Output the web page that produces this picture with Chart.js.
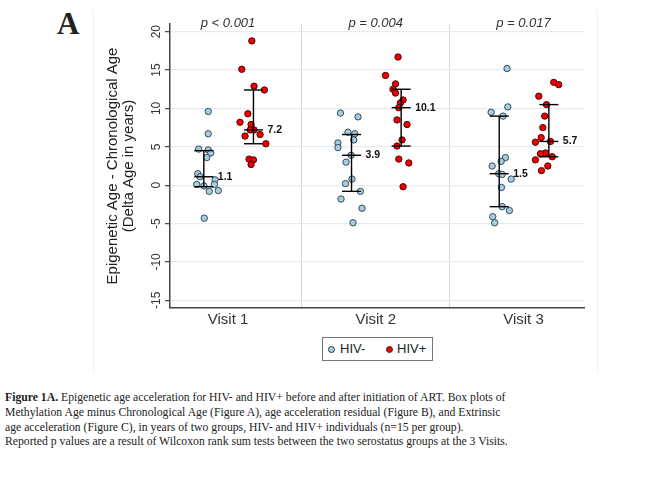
<!DOCTYPE html>
<html>
<head>
<meta charset="utf-8">
<script src="https://cdn.jsdelivr.net/npm/chart.js@4/dist/chart.umd.min.js"></script>
<style>
  body { margin: 0; background: #fff; width: 672px; height: 478px; position: relative; overflow: hidden; }
  #chart { position: absolute; left: 0; top: 0; }
  .frame { position: absolute; top: 10px; height: 362px; width: 0; border-left: 1px solid #eef1f3; }
  #panel { position: absolute; left: 57px; top: 8px; font: bold 31px "Liberation Serif", "Times New Roman", serif; line-height: 31px; color: #222; }
  #legend { position: absolute; left: 322px; top: 337px; width: 111px; height: 24px; box-sizing: border-box; border: 1.5px solid #777; font: 13px "Liberation Sans", Arial, sans-serif; color: #222; }
  #legend .dot { position: absolute; top: 8px; width: 5px; height: 5px; border-radius: 50%; border: 1px solid #333; }
  #legend .txt { position: absolute; top: 3px; line-height: 15px; }
  #caption { position: absolute; left: 5px; top: 390px; font: 13px "Liberation Serif", "Times New Roman", serif; line-height: 14.8px; color: #222; white-space: nowrap; transform: scaleX(0.9); transform-origin: 0 0; }
</style>
</head>
<body>
<div class="frame" style="left:93px"></div>
<div class="frame" style="left:597px"></div>
<div id="panel">A</div>
<canvas id="chart" width="672" height="330" style="width:672px;height:330px"></canvas>
<div id="legend">
  <span class="dot" style="left:5px;background:#a3cde0"></span><span class="txt" style="left:17px">HIV-</span>
  <span class="dot" style="left:63px;background:#f00000"></span><span class="txt" style="left:74px">HIV+</span>
</div>
<div id="caption"><b>Figure 1A.</b> Epigenetic age acceleration for HIV- and HIV+ before and after initiation of ART. Box plots of<br>Methylation Age minus Chronological Age (Figure A), age acceleration residual (Figure B), and Extrinsic<br>age acceleration (Figure C), in years of two groups, HIV- and HIV+ individuals (n=15 per group).<br>Reported p values are a result of Wilcoxon rank sum tests between the two serostatus groups at the 3 Visits.</div>
<script>
const visits = ['Visit 1', 'Visit 2', 'Visit 3'];
const visitPos = [1, 2, 3];
const pValues = ['p < 0.001', 'p = 0.004', 'p = 0.017'];
const yTicks = [-15, -10, -5, 0, 5, 10, 15, 20];

// delta age per subject, x = jittered position on the visit axis
const hivNegV1 = [9.6, 6.7, 4.7, 4.6, 4.2, 3.6, 1.5, 1.1, 0.7, 0.1, -0.1, 0.1, -0.8, -0.7, -4.3];
const hivNegV1X = [0.866, 0.866, 0.801, 0.866, 0.883, 0.856, 0.795, 0.810, 0.912, 0.788, 0.837, 0.907, 0.873, 0.934, 0.839];
const hivPosV1 = [18.8, 15.1, 12.9, 12.4, 9.3, 8.2, 7.9, 7.2, 7.2, 6.4, 6.6, 5.4, 3.4, 3.3, 2.7];
const hivPosV1X = [1.161, 1.093, 1.176, 1.246, 1.134, 1.081, 1.156, 1.176, 1.150, 1.115, 1.217, 1.256, 1.142, 1.172, 1.156];

const hivNegV2 = [9.4, 8.9, 6.9, 6.7, 5.9, 5.5, 4.9, 3.9, 3.0, 0.8, 0.2, -0.8, -1.8, -3.0, -4.9];
const hivNegV2X = [1.761, 1.880, 1.812, 1.858, 1.851, 1.744, 1.744, 1.833, 1.799, 1.839, 1.795, 1.896, 1.765, 1.907, 1.846];
const hivPosV2 = [16.7, 14.3, 13.2, 12.5, 12.0, 11.1, 10.7, 10.1, 8.5, 7.9, 5.9, 5.1, 3.4, 2.9, -0.2];
const hivPosV2X = [2.151, 2.066, 2.134, 2.117, 2.134, 2.185, 2.167, 2.156, 2.144, 2.212, 2.178, 2.144, 2.156, 2.224, 2.185];

const hivNegV3 = [15.2, 10.2, 9.5, 9.0, 3.6, 3.1, 2.5, 1.5, 1.4, 0.8, -0.3, -2.8, -3.3, -4.1, -4.9];
const hivNegV3X = [2.889, 2.894, 2.781, 2.862, 2.878, 2.849, 2.788, 2.833, 2.856, 2.917, 2.851, 2.856, 2.905, 2.792, 2.805];
const hivPosV3 = [13.4, 13.1, 11.6, 10.5, 9.0, 7.5, 6.2, 5.6, 5.7, 4.2, 4.1, 3.7, 3.3, 2.5, 1.9];
const hivPosV3X = [3.205, 3.239, 3.104, 3.156, 3.144, 3.131, 3.120, 3.081, 3.183, 3.149, 3.115, 3.195, 3.081, 3.165, 3.122];

// median and interquartile range per visit
const medNeg = [1.1, 3.9, 1.5];
const q1Neg = [-0.2, -0.8, -2.8];
const q3Neg = [4.5, 6.6, 9.0];
const medPos = [7.2, 10.1, 5.7];
const q1Pos = [5.4, 5.1, 3.7];
const q3Pos = [12.4, 12.5, 10.5];

const offNeg = -0.164;
const offPos = 0.172;
const FONT = '"Liberation Sans", Arial, Helvetica, sans-serif';

Chart.defaults.font.family = FONT;

const toPoints = (xs, ys) => ys.map((v, i) => ({ x: xs[i], y: v }));

function whiskers(off, q1, q3) {
    const out = [];
    visitPos.forEach((v, i) => {
        out.push({ x: v + off, y: q1[i] }, { x: v + off, y: q3[i] }, { x: v + off, y: null });
    });
    return out;
}

function marks(off, q1, q3, med) {
    const out = [];
    visitPos.forEach((v, i) => {
        out.push({ x: v + off, y: q1[i] }, { x: v + off, y: q3[i] }, { x: v + off, y: med[i] });
    });
    return out;
}

const negPoints = [].concat(toPoints(hivNegV1X, hivNegV1), toPoints(hivNegV2X, hivNegV2), toPoints(hivNegV3X, hivNegV3));
const posPoints = [].concat(toPoints(hivPosV1X, hivPosV1), toPoints(hivPosV2X, hivPosV2), toPoints(hivPosV3X, hivPosV3));

const labelPlugin = {
    id: 'medianLabels',
    afterDatasetsDraw(chart) {
        const { ctx, chartArea, scales: { x, y } } = chart;
        ctx.save();
        ctx.fillStyle = '#333';
        ctx.textAlign = 'center';
        ctx.textBaseline = 'middle';
        ctx.font = 'italic 13px ' + FONT;
        visitPos.forEach((v, i) => ctx.fillText(pValues[i], x.getPixelForValue(v), chartArea.top - 1));

        ctx.fillStyle = '#111';
        ctx.textAlign = 'left';
        ctx.font = 'bold 10.5px ' + FONT;
        visitPos.forEach((v, i) => {
            ctx.fillText(medNeg[i].toFixed(1), x.getPixelForValue(v + offNeg) + 14, y.getPixelForValue(medNeg[i]));
            ctx.fillText(medPos[i].toFixed(1), x.getPixelForValue(v + offPos) + 14, y.getPixelForValue(medPos[i]));
        });
        ctx.restore();
    }
};

const xMin = 0.607, xMax = 3.41;

new Chart(document.getElementById('chart'), {
    type: 'scatter',
    data: {
        datasets: [
            { data: whiskers(offNeg, q1Neg, q3Neg).concat(whiskers(offPos, q1Pos, q3Pos)), showLine: true, spanGaps: false,
              borderColor: '#000', borderWidth: 1.4, pointRadius: 0, order: 0 },
            { data: marks(offNeg, q1Neg, q3Neg, medNeg).concat(marks(offPos, q1Pos, q3Pos, medPos)),
              pointStyle: 'line', pointRadius: 9.5, borderColor: '#000', borderWidth: 1.4, pointBorderWidth: 1.4, order: 0 },
            { label: 'HIV-', data: negPoints, backgroundColor: '#a3cde0', borderColor: '#2d3b44',
              pointRadius: 3.2, borderWidth: 0.9, order: 1 },
            { label: 'HIV+', data: posPoints, backgroundColor: '#f00000', borderColor: '#3a0000',
              pointRadius: 3.2, borderWidth: 0.9, order: 1 }
        ]
    },
    options: {
        responsive: false,
        animation: false,
        devicePixelRatio: 1,
        layout: { padding: { left: 100, top: 24, right: 88, bottom: 0 } },
        plugins: { legend: { display: false }, tooltip: { enabled: false } },
        scales: {
            x: {
                type: 'linear', min: xMin, max: xMax,
                afterBuildTicks: s => { s.ticks = visitPos.map(v => ({ value: v })); },
                afterFit: s => { s.height = 22; },
                ticks: { callback: v => visits[visitPos.indexOf(v)], font: { size: 15 }, color: '#333', padding: 3, maxRotation: 0, autoSkip: false },
                grid: { display: false, drawTicks: false },
                border: { color: '#444', width: 1.5 }
            },
            xsep: {
                type: 'linear', position: 'top', min: xMin, max: xMax,
                afterBuildTicks: s => { s.ticks = visitPos.slice(1).map(v => ({ value: v - 0.5 })); },
                afterFit: s => { s.height = 0; },
                ticks: { display: false },
                grid: { color: '#d6d6d6', lineWidth: 1, drawTicks: false },
                border: { display: false }
            },
            y: {
                min: -16, max: 21,
                afterBuildTicks: s => { s.ticks = yTicks.map(v => ({ value: v })); },
                afterFit: s => { s.width = 70; },
                ticks: { minRotation: 90, maxRotation: 90, crossAlign: 'center', padding: 0, font: { size: 12 }, color: '#333' },
                grid: { color: '#e3ecf0', lineWidth: 1.3, tickLength: 5, tickColor: '#444', tickWidth: 1.2 },
                border: { color: '#444', width: 1.5 },
                title: { display: true, text: ['Epigenetic Age - Chronological Age', '(Delta Age in years)'],
                         font: { size: 15, lineHeight: '16px' }, color: '#222', padding: { top: 5, bottom: 0 } }
            }
        }
    },
    plugins: [labelPlugin]
});
</script>
</body>
</html>
